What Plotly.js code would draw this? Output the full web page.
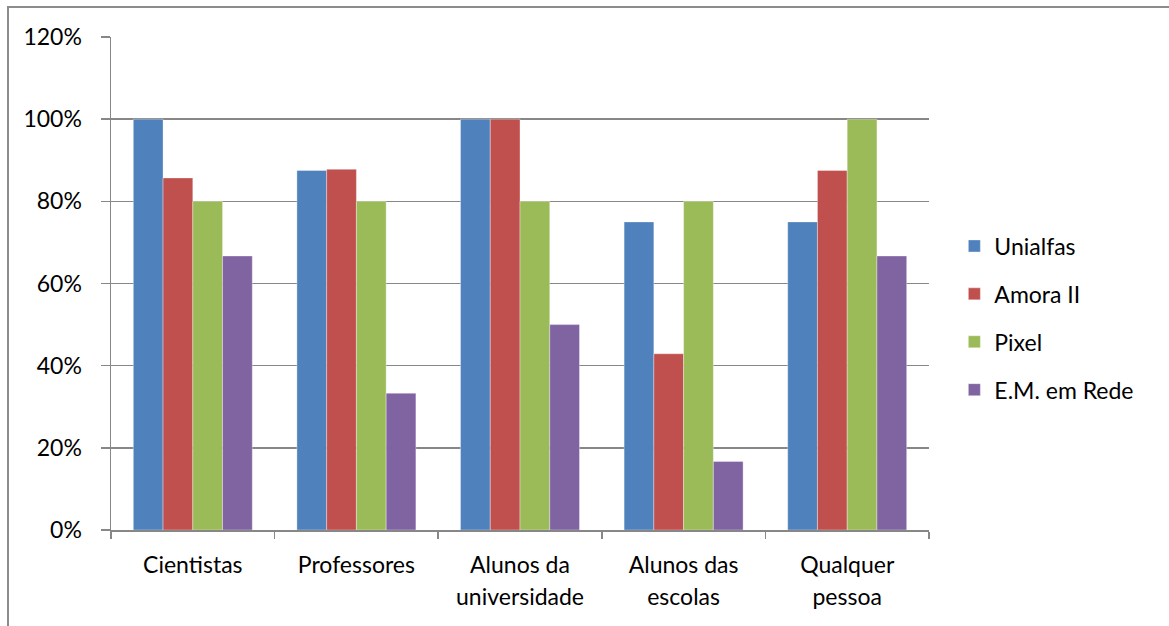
<!DOCTYPE html>
<html>
<head>
<meta charset="utf-8">
<script src="https://cdn.plot.ly/plotly-3.0.1.min.js"></script>
<style>
  html, body { margin: 0; padding: 0; background: #ffffff; }
  #wrap { position: relative; width: 1169px; height: 626px; overflow: hidden; }
  #frame { position: absolute; left: 7px; top: 6px; width: 1200px; height: 700px;
           border-left: 2px solid #8c8c8c; border-top: 2px solid #8c8c8c; }
  #chart { position: absolute; left: 0; top: 0; width: 1169px; height: 626px; }
</style>
</head>
<body>
<div id="wrap">
  <div id="frame"></div>
  <div id="chart"></div>
</div>
<script>
// Audience groups on the category axis
const categories = ['Cientistas', 'Professores', 'Alunos da<br>universidade', 'Alunos das<br>escolas', 'Qualquer<br>pessoa'];

// Share of each audience per project (fractions, shown as %)
const unialfas = [1.0, 0.875, 1.0, 0.75, 0.75];
const amoraII  = [0.857, 0.878, 1.0, 0.429, 0.875];
const pixel    = [0.8, 0.8, 0.8, 0.8, 1.0];
const emEmRede = [0.667, 0.333, 0.5, 0.167, 0.667];

const seriesNames  = ['Unialfas', 'Amora II', 'Pixel', 'E.M. em Rede'];
const seriesValues = [unialfas, amoraII, pixel, emEmRede];
const seriesColors = ['#4F81BD', '#C0504D', '#9BBB59', '#8064A2'];

const FONT = 'Lato, "Open Sans", sans-serif';
const FS = 23;
const GRID = '#878787';

const traces = seriesNames.map((name, i) => ({
  type: 'bar',
  name: name,
  x: categories,
  y: seriesValues[i],
  legendgroup: 'g' + i,
  marker: { color: seriesColors[i], line: { color: 'rgba(255,255,255,0.35)', width: 1 } },
  hoverinfo: 'x+y+name'
}));

const layout = {
  width: 1169,
  height: 626,
  paper_bgcolor: 'rgba(0,0,0,0)',
  plot_bgcolor: 'rgba(0,0,0,0)',
  margin: { l: 111, r: 240, t: 37, b: 96, pad: 0 },
  barmode: 'group',
  bargap: 0.2727,
  bargroupgap: 0,
  font: { family: FONT, size: FS, color: '#000000' },
  showlegend: true,
  legend: {
    x: 1.031, xanchor: 'left',
    y: 0.43, yanchor: 'middle',
    traceorder: 'grouped',
    tracegroupgap: 15,
    font: { family: FONT, size: FS, color: '#000000' },
    bgcolor: 'rgba(0,0,0,0)'
  },
  xaxis: {
    type: 'category',
    automargin: false,
    showline: true,
    linecolor: GRID,
    linewidth: 1.5,
    ticks: 'outside',
    tickson: 'boundaries',
    ticklen: 7,
    tickwidth: 1.5,
    tickcolor: GRID,
    showgrid: false,
    ticklabelstandoff: 14,
    tickfont: { family: FONT, size: FS, color: '#000000' }
  },
  yaxis: {
    range: [0, 1.2],
    dtick: 0.2,
    tick0: 0,
    tickformat: '.0%',
    automargin: false,
    showline: true,
    linecolor: GRID,
    linewidth: 1.5,
    ticks: 'outside',
    ticklen: 9,
    tickwidth: 1.5,
    tickcolor: GRID,
    showgrid: true,
    gridcolor: GRID,
    gridwidth: 1.5,
    zeroline: false,
    ticklabelstandoff: 14,
    tickfont: { family: FONT, size: FS, color: '#000000' }
  }
};

Plotly.newPlot('chart', traces, layout, { displayModeBar: false, staticPlot: true }).then(gd => {
  // open up the spacing between the two lines of the category labels
  gd.querySelectorAll('.xtick text tspan.line').forEach(t => {
    if (t.getAttribute('dy') && parseFloat(t.getAttribute('dy')) > 0) t.setAttribute('dy', '1.4em');
  });
});
</script>
</body>
</html>
